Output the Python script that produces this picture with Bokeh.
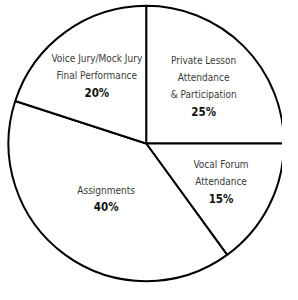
import math
from bokeh.plotting import figure
from bokeh.models import Range1d, ColumnDataSource
from bokeh.core.properties import value
from bokeh.embed import file_html
from bokeh.resources import INLINE

# ---- data ----
labels = ["Private Lesson\nAttendance\n& Participation", "Vocal Forum\nAttendance",
          "Assignments", "Voice Jury/Mock Jury\nFinal Performance"]
percents = [25, 15, 40, 20]

# ---- layout / style ----
W, H = 282, 284
CX, CY, R = 145.7, 284 - 143, 137.7
label_radius = [0.59, 0.61, 0.495, 0.61]
LINE = 17
FONT = "DejaVu Sans Condensed"

p = figure(width=W, height=H, output_backend="svg", toolbar_location=None,
           x_range=Range1d(0, W), y_range=Range1d(0, H), min_border=0)
p.axis.visible = False
p.grid.visible = False
p.outline_line_color = None
p.background_fill_color = "white"
p.border_fill_color = "white"

total = sum(percents)
starts, ends, mids = [], [], []
a = math.pi / 2
for v in percents:
    span = 2 * math.pi * v / total
    starts.append(a - span)
    ends.append(a)
    mids.append(a - span / 2)
    a -= span

src = ColumnDataSource(dict(start=starts, end=ends, x=[CX] * 4, y=[CY] * 4))
p.wedge(x="x", y="y", radius=R, start_angle="start", end_angle="end",
        source=src, fill_color="white", line_color="black", line_width=2)

tx, ty, tt, px, py, pt = [], [], [], [], [], []
for lab, pc, m, rf in zip(labels, percents, mids, label_radius):
    bx = CX + rf * R * math.cos(m)
    by = CY + rf * R * math.sin(m)
    lines = lab.split("\n")
    n = len(lines) + 1
    for k, ln in enumerate(lines):
        tx.append(bx)
        ty.append(by - (k - (n - 1) / 2) * LINE)
        tt.append(ln)
    px.append(bx)
    py.append(by - ((n - 1) - (n - 1) / 2) * LINE)
    pt.append(f"{pc}%")

p.text(x=tx, y=ty, text=tt, text_align="center", text_baseline="middle",
       text_font=value(FONT), text_font_size="10px", text_color="#3a3a3a")
p.text(x=px, y=py, text=pt, text_align="center", text_baseline="middle",
       text_font=value(FONT), text_font_size="11.5px", text_font_style="bold",
       text_color="#111111")

open("out.html", "w").write(file_html(p, INLINE))
